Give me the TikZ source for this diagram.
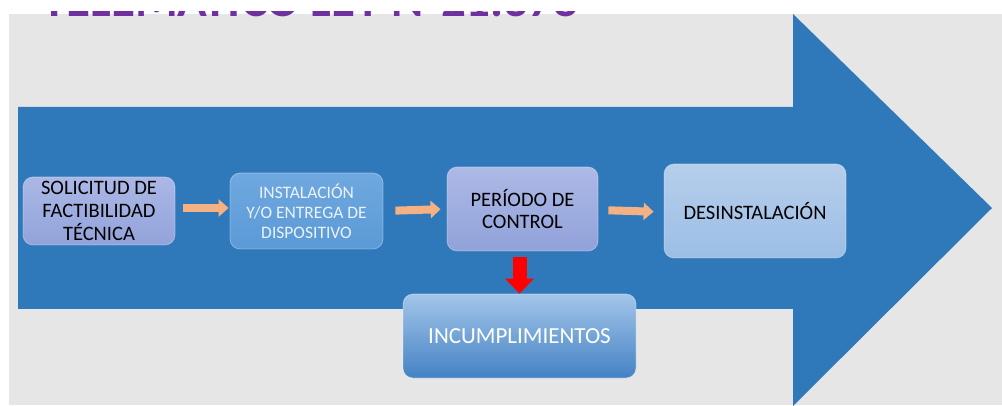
\documentclass[tikz,border=0pt]{standalone}
\usepackage{fontspec}
\setmainfont{Carlito}
\usetikzlibrary{arrows.meta}
\definecolor{bggrey}{HTML}{E7E6E6}
\definecolor{bigblue}{HTML}{2F78B9}
\definecolor{titlepurple}{HTML}{7030A0}
\definecolor{peach}{HTML}{F4B183}
\tikzset{
  box/.style={rounded corners=10pt, inner sep=0pt, align=center, draw=white, draw opacity=0.35, line width=0.8pt},
  orangearrow/.style={line width=8pt, peach, -{Triangle[width=17pt,length=10pt]}},
  redarrow/.style={line width=14pt, red, -{Triangle[width=28pt,length=15pt]}},
}
\begin{document}
\begin{tikzpicture}[x=1pt,y=-1pt]
\useasboundingbox (0,0) rectangle (1002,406);
\fill[white] (0,0) rectangle (1002,406);
\fill[bggrey] (9,14) rectangle (1002,405);
% title (cut off at the top)
\node[anchor=base west, inner sep=0pt, text=titlepurple, font=\fontsize{49}{49}\selectfont\bfseries] (title) at (42,16.7) {TELEMÁTICO LEY N°21.378};
\fill[white] (0,-40) rectangle (1002,11.5);
% big arrow
\fill[bigblue] (18,107) -- (793,107) -- (793,14) -- (992,208) -- (793,406) -- (793,309) -- (18,309) -- cycle;
% boxes
\node[box, top color={rgb,255:red,171;green,184;blue,230}, bottom color={rgb,255:red,146;green,163;blue,219},
  minimum width=152pt, minimum height=68pt, font=\fontsize{20.5}{22.7}\selectfont] (b1) at (99,211)
  {SOLICITUD DE\\ FACTIBILIDAD\\ TÉCNICA};
\node[box, top color={rgb,255:red,112;green,168;blue,224}, bottom color={rgb,255:red,90;green,154;blue,214},
  minimum width=153pt, minimum height=76pt, text={rgb,255:red,236;green,242;blue,250},
  font=\fontsize{17.5}{20}\selectfont] (b2) at (306.5,211)
  {INSTALACIÓN\\ Y/O ENTREGA DE\\ DISPOSITIVO};
\node[box, top color={rgb,255:red,173;green,185;blue,230}, bottom color={rgb,255:red,145;green,162;blue,218},
  minimum width=151pt, minimum height=84pt, font=\fontsize{20.5}{21.7}\selectfont] (b3) at (522.5,209)
  {PERÍODO DE\\ CONTROL};
\node[box, top color={rgb,255:red,182;green,206;blue,236}, bottom color={rgb,255:red,156;green,190;blue,229},
  minimum width=182pt, minimum height=94pt, font=\fontsize{20.5}{22}\selectfont] (b4) at (755,211)
  {DESINSTALACIÓN};
\node[box, top color={rgb,255:red,163;green,198;blue,234}, bottom color={rgb,255:red,68;green,130;blue,196},
  minimum width=233pt, minimum height=84pt, text=white, font=\fontsize{23}{25}\selectfont] (b5) at (519.5,336)
  {INCUMPLIMIENTOS};
% connectors
\draw[orangearrow, shorten <=8pt, shorten >=1pt] ([yshift=3pt]b1.east) -- ([yshift=3pt]b2.west);
\draw[orangearrow, shorten <=12pt, shorten >=6pt] (b2.east) -- (b3.west);
\draw[orangearrow, shorten <=10pt, shorten >=10pt] ([yshift=-1pt]b3.east) -- ([yshift=-1pt]b4.west);
\draw[redarrow, shorten <=6pt, shorten >=0pt] ([xshift=-3pt]b3.south) -- ([xshift=-3pt]b5.north -| b3.south);
\end{tikzpicture}
\end{document}
